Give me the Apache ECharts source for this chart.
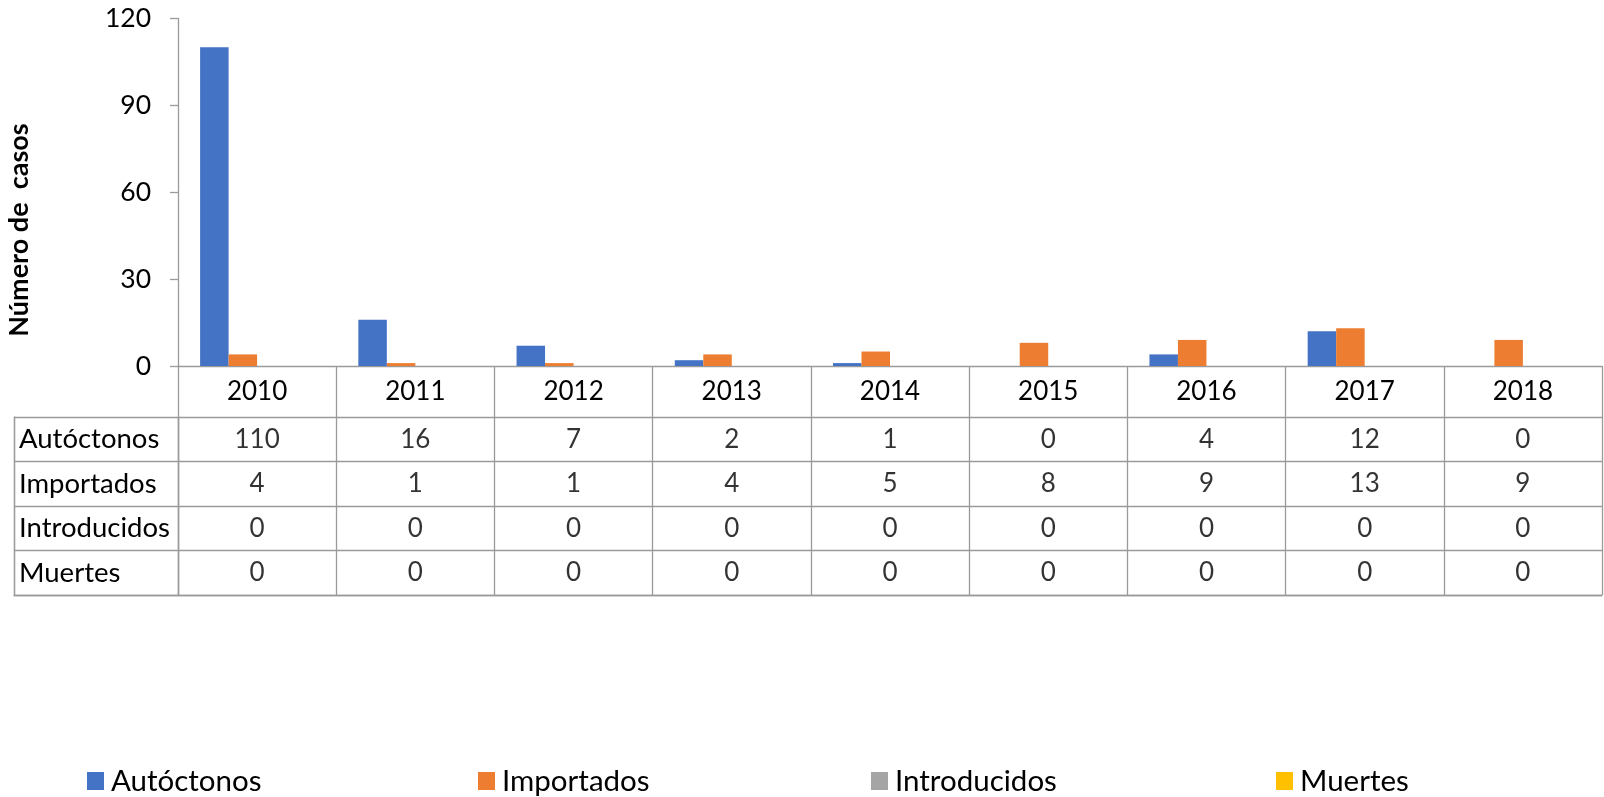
<!DOCTYPE html>
<html><head><meta charset="utf-8">
<script src="https://cdn.jsdelivr.net/npm/echarts@6/dist/echarts.min.js"></script>
<style>html,body{margin:0;padding:0;background:#fff}#c{width:1604px;height:797px}</style>
</head><body><div id="c"></div>
<script>
const years = ['2010','2011','2012','2013','2014','2015','2016','2017','2018'];
const autoctonos = [110,16,7,2,1,0,4,12,0];
const importados = [4,1,1,4,5,8,9,13,9];
const introducidos = [0,0,0,0,0,0,0,0,0];
const muertes = [0,0,0,0,0,0,0,0,0];
const seriesNames = ['Autóctonos','Importados','Introducidos','Muertes'];
const seriesData = [autoctonos, importados, introducidos, muertes];
const colors = ['#4472C4','#ED7D31','#A5A5A5','#FFC000'];
const yTicks = {min:0, max:120, interval:30};
const yTitle = 'Número de  casos';

const FONT = 'Lato';
const LINE = '#9a9a9a';
const chart = echarts.init(document.getElementById('c'));

const tableCells = [];
seriesData.forEach((arr, r) => arr.forEach((v, i) => tableCells.push([i, r, v])));

const barSeries = seriesNames.map((n, k) => ({
  name: n, type: 'bar', xAxisIndex: 0, yAxisIndex: 0,
  data: seriesData[k], barWidth: 28.5, barGap: '0%',
  itemStyle: {color: colors[k]}, emphasis: {disabled: true}
}));

const legends = seriesNames.map((n, k) => ({
  data: [n], left: [82, 473, 866, 1271][k], top: 761,
  itemWidth: 17, itemHeight: 18, itemGap: 0, icon: 'rect',
  textStyle: {fontFamily: FONT, fontSize: 29.5, color: '#000', padding: [0,0,0,2]},
  selectedMode: false
}));

chart.setOption({
  animation: false,
  textStyle: {fontFamily: FONT},
  legend: legends,
  graphic: [{
    type: 'text', x: 19.5, y: 230, rotation: Math.PI/2,
    style: {text: yTitle, fontFamily: FONT, fontWeight: 'bold', fontSize: 27,
      fill: '#000', align: 'center', verticalAlign: 'middle'}
  }],
  grid: [
    {left: 178, top: 18.4, width: 1424, height: 347.6},
    {left: 178, top: 417, width: 1424, height: 178},
    {left: 14, top: 417, width: 164, height: 178}
  ],
  xAxis: [
    {gridIndex: 0, type: 'category', data: years,
      axisLine: {lineStyle: {color: LINE, width: 1.3}},
      axisTick: {show: true, length: 51, lineStyle: {color: LINE, width: 1.3}},
      axisLabel: {color: '#000', fontSize: 26, fontFamily: FONT, margin: 25.5, verticalAlign: 'middle'}},
    {gridIndex: 1, type: 'category', data: years,
      axisLine: {show: true, lineStyle: {color: LINE, width: 1.3}},
      axisTick: {show: false}, axisLabel: {show: false},
      splitLine: {show: true, lineStyle: {color: LINE, width: 1.3}}},
    {gridIndex: 2, type: 'category', data: [''],
      axisLine: {show: true, lineStyle: {color: LINE, width: 1.3}},
      axisTick: {show: false}, axisLabel: {show: false},
      splitLine: {show: true, lineStyle: {color: LINE, width: 1.3}}}
  ],
  yAxis: [
    {gridIndex: 0, type: 'value', min: yTicks.min, max: yTicks.max, interval: yTicks.interval,
      axisLine: {show: true, lineStyle: {color: LINE, width: 1.3}},
      axisTick: {show: true, length: 8, lineStyle: {color: LINE, width: 1.3}},
      splitLine: {show: false},
      axisLabel: {color: '#000', fontSize: 26.5, fontFamily: FONT, margin: 27}},
    {gridIndex: 1, type: 'category', data: seriesNames, inverse: true,
      axisLine: {show: true, lineStyle: {color: LINE, width: 1.3}},
      axisTick: {show: false}, axisLabel: {show: false},
      splitLine: {show: true, lineStyle: {color: LINE, width: 1.3}}},
    {gridIndex: 2, type: 'category', data: seriesNames, inverse: true,
      axisLine: {show: true, lineStyle: {color: LINE, width: 1.3}},
      axisTick: {show: false},
      axisLabel: {show: true, inside: true, margin: 5, color: '#000', fontSize: 27.5, fontFamily: FONT, align: 'left'},
      splitLine: {show: true, lineStyle: {color: LINE, width: 1.3}}}
  ],
  series: barSeries.concat([{
    type: 'scatter', xAxisIndex: 1, yAxisIndex: 1, data: tableCells,
    symbolSize: 1, itemStyle: {color: 'rgba(0,0,0,0)'}, silent: true,
    label: {show: true, position: 'inside', formatter: p => String(p.value[2]),
      color: '#000', fontSize: 26, fontFamily: FONT}
  }])
});
</script></body></html>
